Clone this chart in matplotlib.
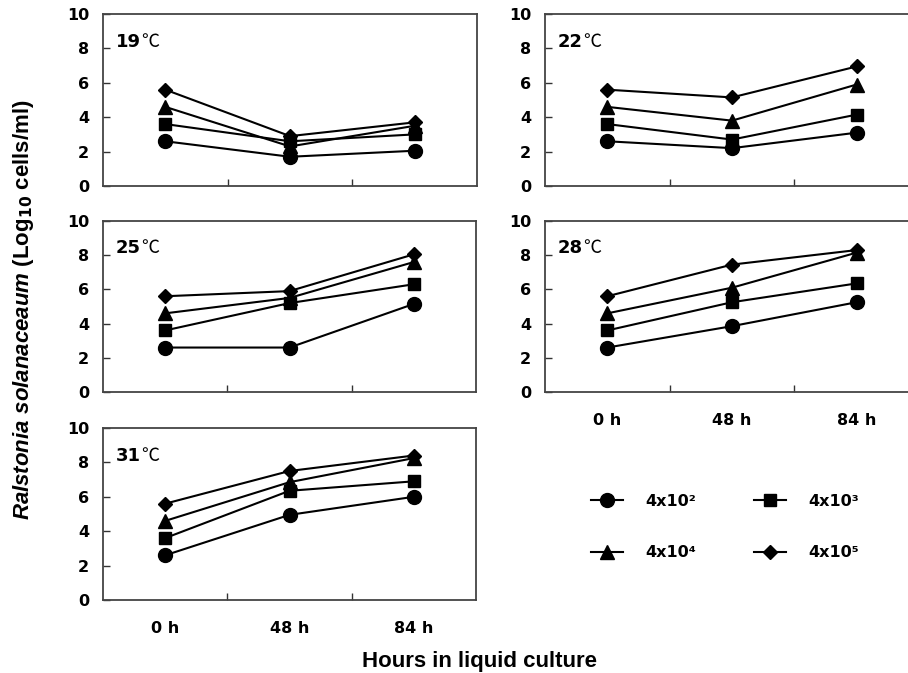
import numpy as np
import matplotlib.pyplot as plt
import matplotlib

matplotlib.rcParams['mathtext.fontset'] = 'custom'
matplotlib.rcParams['mathtext.rm'] = 'DejaVu Sans:bold'
matplotlib.rcParams['mathtext.it'] = 'Liberation Sans:bold:italic'
matplotlib.rcParams['mathtext.bf'] = 'DejaVu Sans:bold'

hours = ['0 h', '48 h', '84 h']
doses = ['4x10²', '4x10³', '4x10⁴', '4x10⁵']
temps = ['19', '22', '25', '28', '31']

# log10 cells/ml, rows = dose (4x10^2 .. 4x10^5), cols = 0h, 48h, 84h
t19 = [[2.6, 1.7, 2.05], [3.6, 2.6, 3.0], [4.6, 2.3, 3.5], [5.6, 2.9, 3.7]]
t22 = [[2.6, 2.2, 3.1], [3.6, 2.7, 4.15], [4.6, 3.8, 5.9], [5.6, 5.15, 6.95]]
t25 = [[2.6, 2.6, 5.15], [3.6, 5.2, 6.3], [4.6, 5.5, 7.6], [5.6, 5.9, 8.05]]
t28 = [[2.6, 3.85, 5.25], [3.6, 5.25, 6.35], [4.6, 6.1, 8.15], [5.6, 7.45, 8.3]]
t31 = [[2.6, 4.95, 6.0], [3.6, 6.35, 6.9], [4.6, 6.85, 8.25], [5.6, 7.5, 8.4]]
data = [t19, t22, t25, t28, t31]

markers = ['o', 's', '^', 'D']
msizes = [10, 9, 9.5, 7.5]

fig = plt.figure(figsize=(9.08, 6.73), dpi=100)
W, H = 908.0, 673.0
# panel boxes in pixels: left, top, width, height
boxes = [(103, 14, 374, 172), (545, 14, 374, 172),
         (103, 221, 373, 171), (545, 221, 374, 171),
         (103, 428, 373, 172)]

x = np.array([0.5, 1.5, 2.5])
for i, (l, t, w, h) in enumerate(boxes):
    ax = fig.add_axes([l / W, 1 - (t + h) / H, w / W, h / H])
    vals = data[i]
    for j in range(4):
        ax.plot(x, vals[j], color='black', lw=1.5, marker=markers[j],
                ms=msizes[j], mfc='black', mec='black', label=doses[j])
    ax.set_xlim(0, 3)
    ax.set_ylim(0, 10)
    ax.set_yticks([0, 2, 4, 6, 8, 10])
    ax.set_xticks([1, 2])
    ax.set_xticklabels([])
    ax.tick_params(direction='in', length=5, width=1, color='#333333',
                   top=False, right=False, labelsize=11.5)
    ax.tick_params(axis='y', pad=10)
    for lab in ax.get_yticklabels():
        lab.set_fontweight('bold')
    for s in ax.spines.values():
        s.set_color('#444444')
        s.set_linewidth(1.3)
    if i in (3, 4):
        for xi, name in zip(x, hours):
            ax.text(xi, -0.12, name, transform=ax.get_xaxis_transform(),
                    ha='center', va='top', fontsize=11.5, fontweight='bold')
    tl = ax.text(0.035, 0.84, temps[i], transform=ax.transAxes,
                 fontsize=13, fontweight='bold', va='center', ha='left')
    ax.annotate('℃', xy=(1, 0), xycoords=tl, va='bottom', ha='left',
                fontsize=13, family=['Noto Sans CJK KR', 'DejaVu Sans'])
    if i == 0:
        handles, labels = ax.get_legend_handles_labels()

# legend fills column by column, so reorder to read row by row
order = [0, 2, 1, 3]
leg = fig.legend([handles[k] for k in order], [labels[k] for k in order],
                 ncol=2, loc='center',
                 bbox_to_anchor=(725 / W, 1 - 527 / H), frameon=False,
                 handlelength=2.0, handletextpad=1.4, columnspacing=3.6,
                 labelspacing=2.3, prop={'size': 11.5, 'weight': 'bold'})

fig.text(24 / W, 1 - 310 / H,
         r'$\mathit{Ralstonia\ solanaceaum}$ (Log$_{10}$ cells/ml)',
         rotation=90, ha='center', va='center', fontsize=16,
         fontweight='bold', family='Liberation Sans')
fig.text(480 / W, 1 - 661 / H, 'Hours in liquid culture', ha='center',
         va='center', fontsize=16, fontweight='bold', family='Liberation Sans')

fig.savefig('out.png', dpi=100)
